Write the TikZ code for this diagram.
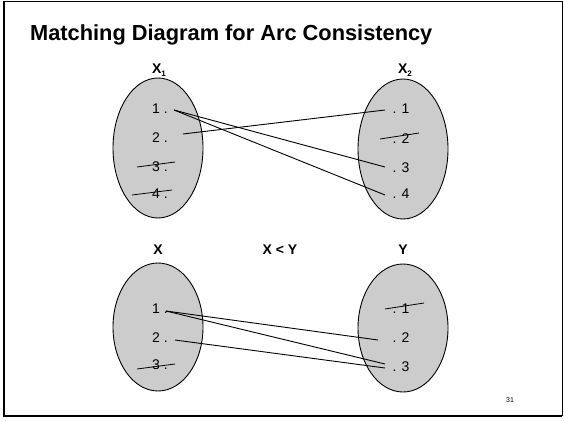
\documentclass[tikz,border=0pt]{standalone}
\usepackage{fontspec}
\setmainfont{Liberation Sans}
\usetikzlibrary{shapes.geometric}
\begin{document}
\begin{tikzpicture}[x=1pt,y=-1pt,
  setell/.style={draw=black,fill=black!20,line width=0.9pt,ellipse,inner sep=0pt,minimum width=90pt},
  item/.style={inner sep=0pt,anchor=base,font=\fontsize{14}{16}\selectfont},
  lab/.style={inner sep=0pt,anchor=base,font=\bfseries\fontsize{14}{16}\selectfont},
  match/.style={line width=0.9pt},
  strike/.style={line width=0.8pt}]
\useasboundingbox (0,0) rectangle (564,420);
% frame
\draw[line width=0.6pt] (4,1) -- (562,1) -- (562,416);
\draw[line width=2pt] (4,1) -- (4,416) -- (562,416);
% title
\node[anchor=base west,inner sep=0pt,font=\bfseries\fontsize{21.8}{24}\selectfont] (title) at (30,41) {Matching Diagram for Arc Consistency};
% ellipses
\node[setell,minimum height=140pt] (e1) at (158,148) {};
\node[setell,minimum height=140pt] (e2) at (403,149) {};
\node[setell,minimum height=128pt] (e3) at (158,327) {};
\node[setell,minimum height=128pt] (e4) at (403,328) {};
% labels
\node[lab] (lx1) at (159,73) {X\raisebox{-3pt}{\fontsize{8}{9}\selectfont 1}};
\node[lab] (lx2) at (405,73) {X\raisebox{-3pt}{\fontsize{8}{9}\selectfont 2}};
\node[lab] (lx) at (158,254) {X};
\node[lab] (ly) at (403,254) {Y};
\node[lab] (lxy) at (280,254) {X < Y};
% top-left items
\node[item] (a1) at (160,113) {1 .};
\node[item] (a2) at (160,142) {2 .};
\node[item] (a3) at (160,171) {3 .};
\node[item] (a4) at (160,198) {4 .};
% top-right items
\node[item] (b1) at (401,113) {. 1};
\node[item] (b2) at (401,143) {. 2};
\node[item] (b3) at (401,172) {. 3};
\node[item] (b4) at (401,198) {. 4};
% bottom-left items
\node[item] (c1) at (160,313) {1 .};
\node[item] (c2) at (160,342) {2 .};
\node[item] (c3) at (160,369) {3 .};
% bottom-right items
\node[item] (d1) at (401,313) {. 1};
\node[item] (d2) at (401,342) {. 2};
\node[item] (d3) at (401,371) {. 3};
% page number
\node[inner sep=0pt,font=\fontsize{7}{8}\selectfont] (pg) at (510,400) {31};
% connector end points
\coordinate (pa1) at (174,110);
\coordinate (pa2) at (183,134);
\coordinate (pb1) at (385,110);
\coordinate (pb3) at (385,167);
\coordinate (pb4) at (385,195);
\coordinate (pc1) at (166,311);
\coordinate (pc2) at (175,340);
\coordinate (pd2) at (378,340);
\coordinate (pd3a) at (385,364);
\coordinate (pd3b) at (385,368);
% matching lines
\draw[match] (pa1) -- (pb3);
\draw[match] (pa1) -- (pb4);
\draw[match] (pa2) -- (pb1);
\draw[match] (pc1) -- (pd2);
\draw[match] (pc1) -- (pd3a);
\draw[match] (pc2) -- (pd3b);
% strike-outs
\draw[strike] (137,167) -- (175,162);
\draw[strike] (132,195) -- (172,190);
\draw[strike] (380,139) -- (419,133);
\draw[strike] (137,369) -- (175,364);
\draw[strike] (385,309) -- (424,303);
\end{tikzpicture}
\end{document}
